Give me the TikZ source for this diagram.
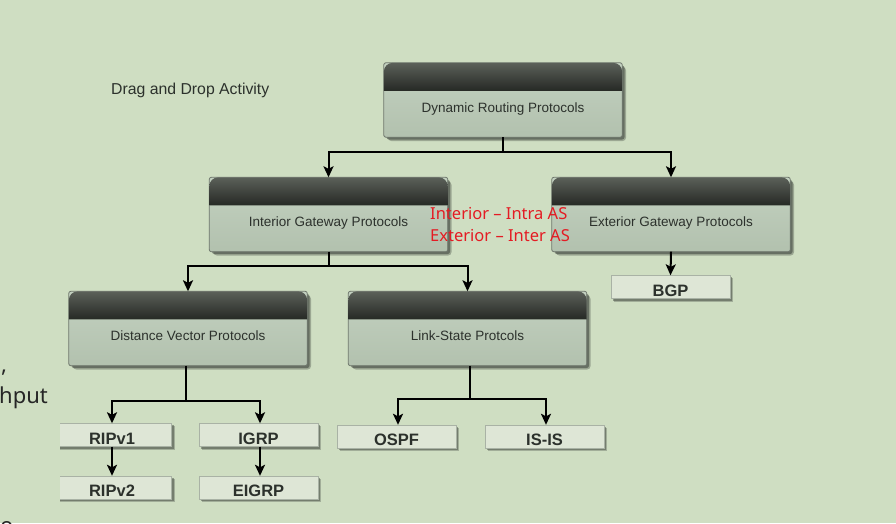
\documentclass[tikz,border=0pt]{standalone}
\usepackage{fontspec}
\setmainfont{Liberation Sans}
\newfontfamily\notefont{Noto Sans}
\usetikzlibrary{arrows.meta,calc}
\pgfdeclarelayer{bgzero}\pgfdeclarelayer{bgone}
\pgfsetlayers{bgzero,bgone,main}
\definecolor{pagebg}{HTML}{CFDEC2}
\definecolor{bodytop}{HTML}{C3D1C0}
\definecolor{bodybot}{HTML}{B2C1AE}
\definecolor{bordc}{HTML}{6E766C}
\definecolor{hdtop}{HTML}{5B6059}
\definecolor{hdbot}{HTML}{262925}
\definecolor{txtc}{HTML}{2C312C}
\definecolor{smallfill}{HTML}{DEE6D6}
\definecolor{smallbord}{HTML}{A9B2A5}
\definecolor{shadc}{HTML}{3C423B}
\definecolor{rednote}{HTML}{E41B23}
\tikzset{
  x=1pt, y=-1pt,
  bigbox/.style={rectangle, minimum width=238pt, minimum height=74pt, inner sep=0pt,
    text height=24pt, text depth=0pt, font=\fontsize{13.5}{16}\selectfont, text=txtc},
  smallbox/.style={rectangle, minimum width=119pt, minimum height=23pt, inner sep=0pt,
    text height=18pt, text depth=0pt, font=\bfseries\fontsize{16.5}{18}\selectfont, text=txtc},
  conn/.style={line width=2pt, black},
  arr/.style={conn, -{Stealth[length=11pt,width=10pt,inset=2.5pt]}},
  note/.style={anchor=west, inner sep=0pt, text=rednote, font=\notefont\fontsize{16.5}{19}\selectfont},
  frag/.style={anchor=base west, inner sep=0pt, text=black!85, font=\notefont\fontsize{22}{26}\selectfont}
}
\newcommand\bigboxbg[1]{%
  \begin{pgfonlayer}{bgone}
    \fill[shadc, opacity=0.35, rounded corners=4] ([shift={(4,4)}]#1.north west) rectangle ([shift={(4,4)}]#1.south east);
    \fill[shadc, opacity=0.55, rounded corners=3] ([shift={(2.5,2.5)}]#1.north west) rectangle ([shift={(2.5,2.5)}]#1.south east);
    \shade[top color=bodytop, bottom color=bodybot, draw=bordc, line width=0.8pt, rounded corners=2]
      (#1.north west) rectangle (#1.south east);
    \shade[top color=hdtop, bottom color=hdbot]
      ([shift={(0,28)}]#1.north west) [rounded corners=9] -- (#1.north west) -- (#1.north east)
      [sharp corners] -- ([shift={(0,28)}]#1.north east) -- cycle;
  \end{pgfonlayer}}
\newcommand\smallboxbg[1]{%
  \begin{pgfonlayer}{bgone}
  \begin{scope}
    \clip (60,0) rectangle (896,523);
    \fill[shadc, opacity=0.3] ([shift={(3,3)}]#1.north west) rectangle ([shift={(3,3)}]#1.south east);
    \fill[shadc, opacity=0.45] ([shift={(1.8,1.8)}]#1.north west) rectangle ([shift={(1.8,1.8)}]#1.south east);
    \filldraw[fill=smallfill, draw=smallbord, line width=0.6pt] (#1.north west) rectangle (#1.south east);
  \end{scope}
  \end{pgfonlayer}}
\begin{document}
\begin{tikzpicture}
\begin{pgfonlayer}{bgzero}
  \fill[pagebg] (0,0) rectangle (896,523);
\end{pgfonlayer}
\useasboundingbox (0,0) rectangle (896,523);

% title
\node[anchor=west, inner sep=0pt, text=txtc, font=\fontsize{15.8}{18}\selectfont] (title) at (111,90) {Drag and Drop Activity};

% big boxes
\node[bigbox] (drp) at (503,100) {Dynamic Routing Protocols};
\node[bigbox] (igp) at (328.5,214.5) {Interior Gateway Protocols};
\node[bigbox] (egp) at (671,214.5) {Exterior Gateway Protocols};
\node[bigbox] (dvp) at (188,328.5) {Distance Vector Protocols};
\node[bigbox] (lsp) at (467.5,328.5) {Link-State Protcols};
\bigboxbg{drp}\bigboxbg{igp}\bigboxbg{egp}\bigboxbg{dvp}\bigboxbg{lsp}

% small boxes
\node[smallbox] (bgp) at (670.5,287) {BGP};
\node[smallbox] (ripa) at (112,435) {RIPv1};
\node[smallbox] (igrp) at (258.5,435) {IGRP};
\node[smallbox] (ripb) at (112,487.5) {RIPv2};
\node[smallbox] (eigrp) at (258.5,487.5) {EIGRP};
\node[smallbox] (ospf) at (396.5,436.5) {OSPF};
\node[smallbox] (isis) at (544.5,436.5) {IS-IS};
\smallboxbg{bgp}\smallboxbg{ripa}\smallboxbg{igrp}\smallboxbg{ripb}\smallboxbg{eigrp}\smallboxbg{ospf}\smallboxbg{isis}

% connectors
\draw[conn] (drp.south) -- ++(0,15) coordinate (jd);
\draw[arr] (jd) -| (igp.north);
\draw[arr] (jd) -| (egp.north);
\draw[conn] (igp.south) -- ++(0,14) coordinate (ji);
\draw[arr] (ji) -| (dvp.north);
\draw[arr] (ji) -| (lsp.north);
\draw[arr] (egp.south) -- (bgp.north);
\draw[conn] ([xshift=-2pt]dvp.south) -- ++(0,35) coordinate (jv);
\draw[arr] (jv) -| (ripa.north);
\draw[arr] (jv) -| ([xshift=1.5pt]igrp.north);
\draw[conn] ([xshift=2.5pt]lsp.south) -- ++(0,33) coordinate (jl);
\draw[arr] (jl) -| ([xshift=1.5pt]ospf.north);
\draw[arr] (jl) -| ([xshift=1.5pt]isis.north);
\draw[arr] (ripa.south) -- (ripb.north);
\draw[arr] ([xshift=1.5pt]igrp.south) -- ([xshift=1.5pt]eigrp.north);

% red notes
\node[note] (n1) at (430,213) {Interior – Intra AS};
\node[note] (n2) at (430,235) {Exterior – Inter AS};

% fragments at left edge
\node[frag] (f1) at (1,372) {,};
\node[frag] (f2) at (-1,403) {hput};
\node[frag] (f3) at (0,533) {o};
\end{tikzpicture}
\end{document}
